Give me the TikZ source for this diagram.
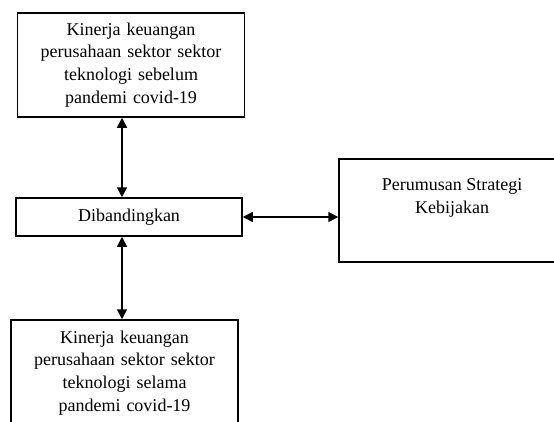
\documentclass[tikz,border=0pt]{standalone}
\usepackage{fontspec}
\setmainfont{Liberation Serif}
\usetikzlibrary{arrows.meta}

\begin{document}
\begin{tikzpicture}[x=1pt,y=-1pt,
  kotak/.style={draw,line width=1.5pt,align=center,text width=215pt,minimum width=227pt,font=\fontsize{18}{22.7}\selectfont},
  panah/.style={line width=1.5pt,{Triangle[length=10pt,width=10pt]}-{Triangle[length=10pt,width=10pt]}}]
\useasboundingbox (0,0) rectangle (554,421);

\node[kotak,minimum height=104pt] (sebelum) at (131,65) {Kinerja keuangan\\perusahaan sektor sektor\\teknologi sebelum\\pandemi covid-19};
\node[kotak,minimum height=38pt,minimum width=226pt] (banding) at (129,217) {Dibandingkan};
\node[kotak,minimum height=106pt] (selama) at (124.5,373) {Kinerja keuangan\\perusahaan sektor sektor\\teknologi selama\\pandemi covid-19};
\node[kotak,minimum height=103pt,minimum width=226pt,
  label={[font=\fontsize{18}{22.7}\selectfont,align=center,anchor=north,yshift=-17pt]north:Perumusan Strategi\\Kebijakan}] (rumus) at (452,210.5) {};

\coordinate (garis) at (122,0);
\draw[panah] (sebelum.south -| garis) -- (banding.north -| garis);
\draw[panah] (banding.south -| garis) -- (selama.north -| garis);
\draw[panah] (banding.east) -- (banding.east -| rumus.west);

\end{tikzpicture}
\end{document}
